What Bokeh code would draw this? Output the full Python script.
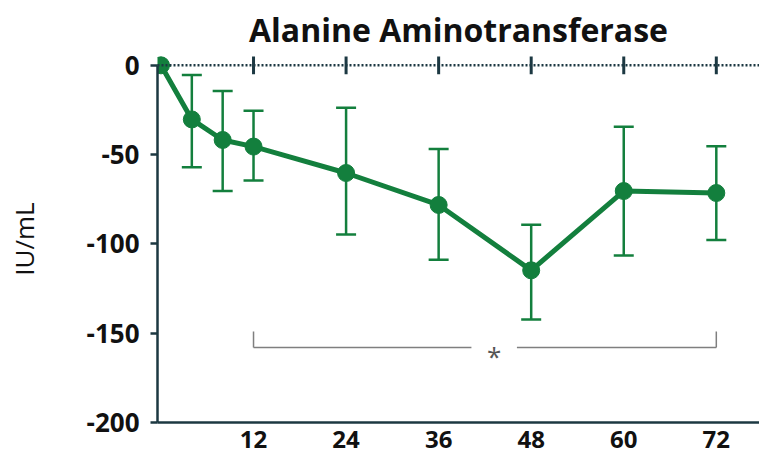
from bokeh.plotting import figure
from bokeh.models import (ColumnDataSource, Whisker, TeeHead, Span, Range1d,
                          FixedTicker)
from bokeh.core.properties import value
from bokeh.embed import file_html
from bokeh.resources import INLINE

# ---- data ----
hours = [0, 4, 8, 12, 24, 36, 48, 60, 72]
mean_change = [0, -30.3, -41.8, -45.5, -60.3, -78.2, -114.8, -70.4, -71.5]
upper_err = [0, -5.4, -14.4, -25.5, -23.7, -46.8, -89.3, -34.4, -45.3]
lower_err = [0, -57.1, -70.4, -64.5, -94.8, -108.9, -142.3, -106.5, -97.8]
x_ticks = [12, 24, 36, 48, 60, 72]
y_ticks = [0, -50, -100, -150, -200]
sig_from, sig_to = 12, 72
sig_top, sig_level = -149, -158
sig_mark = "*"

GREEN = "#137f3d"
AXIS = "#1c3842"
GRAY = "#7f7f7f"
FONT = "Open Sans"

p = figure(width=759, height=455, output_backend="svg", toolbar_location=None,
           x_range=Range1d(-0.45, 77.6), y_range=Range1d(-200, 5.5),
           min_border_left=157, min_border_right=0, min_border_top=47,
           min_border_bottom=33, outline_line_color=None,
           title="Alanine Aminotransferase")
p.title.text_font = FONT
p.title.text_font_size = "32px"
p.title.text_font_style = "bold"
p.title.text_color = "#111111"
p.title.align = "center"
p.grid.visible = False

# axes
xa = p.xaxis[0]
xa.ticker = FixedTicker(ticks=x_ticks)
xa.major_label_overrides = {t: str(t) for t in x_ticks}
xa.axis_line_color = AXIS
xa.axis_line_width = 2.5
xa.major_tick_line_color = None
xa.minor_tick_line_color = None
xa.major_label_standoff = 2
xa.major_label_text_font = FONT
xa.major_label_text_font_size = "24px"
xa.major_label_text_font_style = "bold"
xa.major_label_text_color = "#111111"

ya = p.yaxis[0]
ya.ticker = FixedTicker(ticks=y_ticks)
ya.major_label_overrides = {t: str(t) for t in y_ticks}
ya.bounds = (min(y_ticks), max(y_ticks))
ya.axis_line_color = AXIS
ya.axis_line_width = 2.5
ya.major_tick_line_color = AXIS
ya.major_tick_line_width = 2.5
ya.major_tick_out = 7
ya.major_tick_in = 0
ya.minor_tick_line_color = None
ya.major_label_standoff = 11
ya.major_label_text_font = FONT
ya.major_label_text_font_size = "26px"
ya.major_label_text_font_style = "bold"
ya.major_label_text_color = "#111111"
ya.axis_label = "IU/mL"
ya.axis_label_text_font = FONT
ya.axis_label_text_font_size = "26px"
ya.axis_label_text_font_style = "normal"
ya.axis_label_text_color = "#111111"
ya.axis_label_standoff = 42

# dotted zero line with tick marks on it
p.add_layout(Span(location=0, dimension="width", line_color=AXIS,
                  line_width=2.5, line_dash="2 2"))
p.segment(x0=x_ticks, x1=x_ticks, y0=[-5] * len(x_ticks), y1=[5] * len(x_ticks),
          line_color=AXIS, line_width=3)

# error bars
src = ColumnDataSource(dict(x=hours, y=mean_change, up=upper_err, lo=lower_err))
wh = Whisker(base="x", upper="up", lower="lo", source=src,
             line_color=GREEN, line_width=2.5,
             upper_head=TeeHead(size=20, line_color=GREEN, line_width=2.5),
             lower_head=TeeHead(size=20, line_color=GREEN, line_width=2.5))
p.add_layout(wh)

# mean line + markers
p.line("x", "y", source=src, line_color=GREEN, line_width=5)
p.scatter("x", "y", source=src, size=17, fill_color=GREEN, line_color=GREEN)

# significance bracket
mid = 43.2
gap = 2.95
p.segment(x0=[sig_from, sig_to, sig_from, mid + gap],
          x1=[sig_from, sig_to, mid - gap, sig_to],
          y0=[sig_top, sig_top, sig_level, sig_level],
          y1=[sig_level, sig_level, sig_level, sig_level],
          line_color=GRAY, line_width=1.5)
p.text(x=[mid], y=[sig_level], text=[sig_mark], text_font=value(FONT),
       text_font_size="26px", text_color="#555555", text_align="center",
       text_baseline="middle", y_offset=9)

open("out.html", "w").write(file_html(p, INLINE))
